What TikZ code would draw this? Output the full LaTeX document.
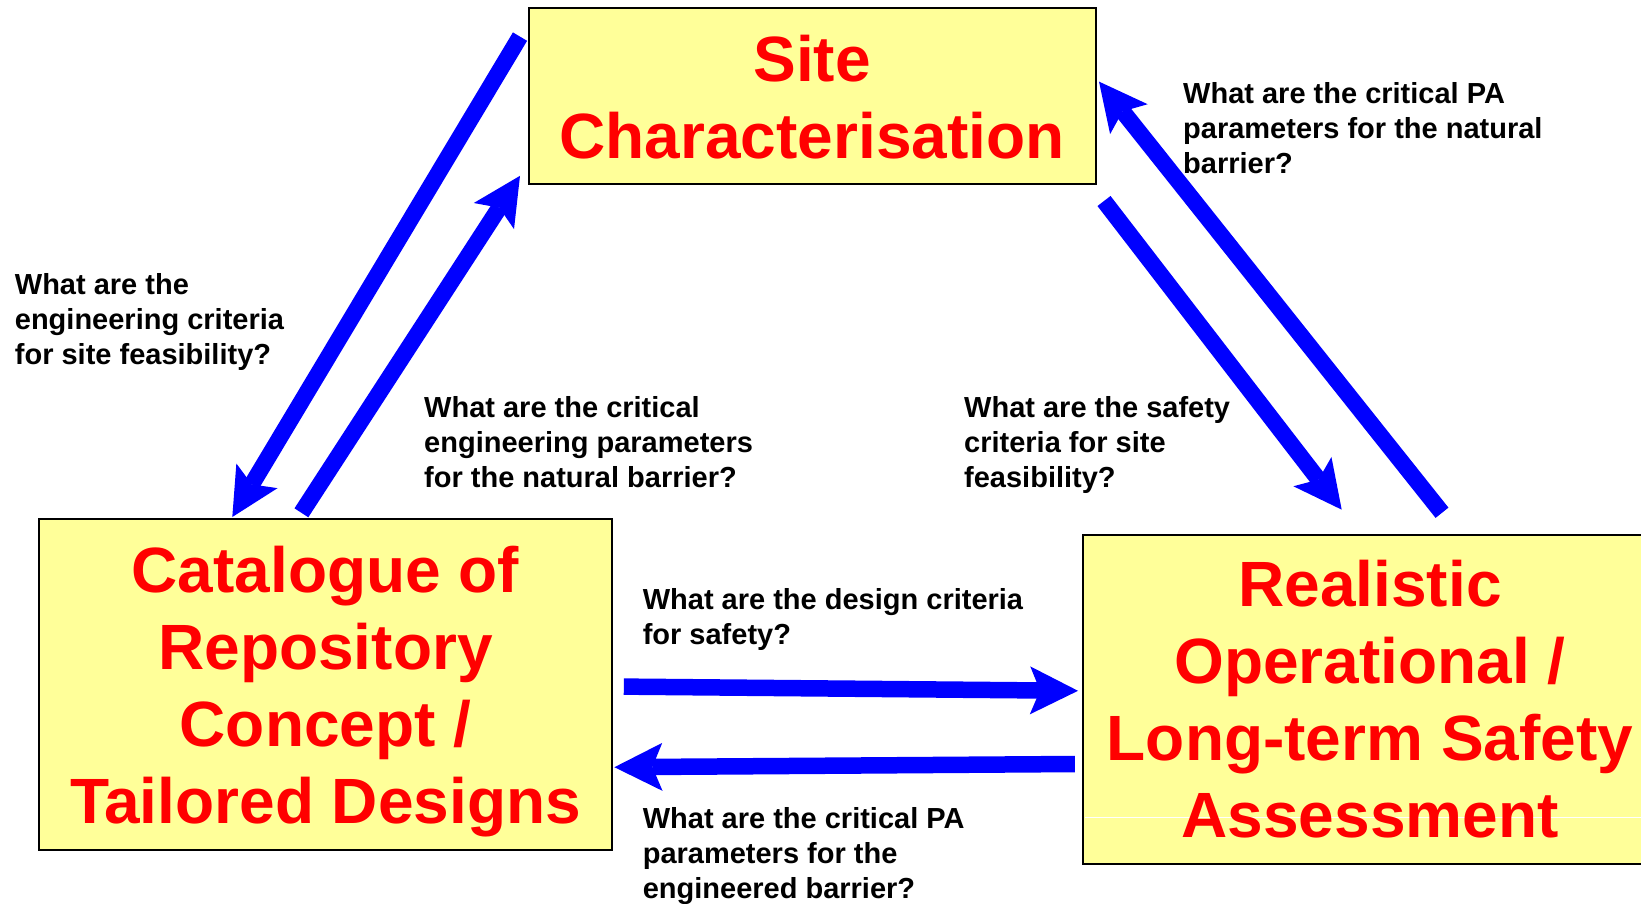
\documentclass[tikz,border=0pt]{standalone}
\usepackage{fontspec}
\setmainfont{Liberation Sans}
\usetikzlibrary{arrows.meta,calc}
\definecolor{boxyellow}{RGB}{255,255,153}
\definecolor{arrowblue}{RGB}{0,0,255}
\definecolor{titlered}{RGB}{255,0,0}
\begin{document}
\begin{tikzpicture}[x=1pt,y=-1pt,
  boxnode/.style={draw=black,line width=2pt,fill=boxyellow,inner sep=0pt,outer sep=0pt,rectangle},
  titletext/.style={font=\fontsize{64}{77}\selectfont\bfseries,text=titlered,align=center,inner sep=0pt},
  qtext/.style={font=\fontsize{29}{35}\selectfont\bfseries,align=left,inner sep=0pt,anchor=north west},
  flow/.style={draw=arrowblue,line width=16.5pt,-{Stealth[length=48pt,width=48pt,inset=10pt,line width=0pt]}}
]
\clip (0,0) rectangle (1641,903);
\useasboundingbox (0,0) rectangle (1641,903);
\fill[white] (0,0) rectangle (1641,903);

% boxes
\node[boxnode,minimum width=567pt,minimum height=176pt] (site) at (812.5,96) {};
\node[boxnode,minimum width=573pt,minimum height=331pt] (cat) at (325.5,684.5) {};
\node[boxnode,minimum width=574pt,minimum height=329.5pt] (real) at (1370,699.7) {};
\draw[white,line width=1pt] ($(real.west)+(1.5,117.3)$) -- ++(600,0);

% box texts
\node[titletext] (sitetext) at (812,96.8) {Site\\Characterisation};
\node[titletext] (cattext) at (325.5,692) {Catalogue of\\Repository\\Concept /\\Tailored Designs};
\node[titletext] (realtext) at (1370,699.2) {Realistic\\Operational /\\Long-term Safety\\Assessment};

% arrows
\draw[flow] ($(site.north west)+(-9,28.6)$) -- ($(cat.north west)+(193.3,-2)$);
\draw[flow] ($(cat.north west)+(262.4,-6.2)$) -- ($(site.south west)+(-9,-8.2)$);
\draw[flow] ($(site.south east)+(8,17)$) -- ($(real.north west)+(258.7,-25.3)$);
\draw[flow] ($(real.north west)+(359,-22.2)$) -- ($(site.north east)+(3,73.6)$);
\draw[flow] ($(cat.east)+(11.8,2.1)$) -- ($(real.west)+(-5,-8.9)$);
\draw[flow] ($(real.west)+(-8.1,64.3)$) -- ($(cat.east)+(2.4,82.7)$);

% question labels
\node[qtext] (qpanat) at (1183,82) {What are the critical PA\\parameters for the natural\\barrier?};
\node[qtext] (qengcrit) at (14.7,273) {What are the\\engineering criteria\\for site feasibility?};
\node[qtext] (qcriteng) at (424,396) {What are the critical\\engineering parameters\\for the natural barrier?};
\node[qtext] (qsafety) at (964,396) {What are the safety\\criteria for site\\feasibility?};
\node[qtext] (qdesign) at (642.6,588) {What are the design criteria\\for safety?};
\node[qtext] (qpaeng) at (642.6,807) {What are the critical PA\\parameters for the\\engineered barrier?};
\end{tikzpicture}
\end{document}
